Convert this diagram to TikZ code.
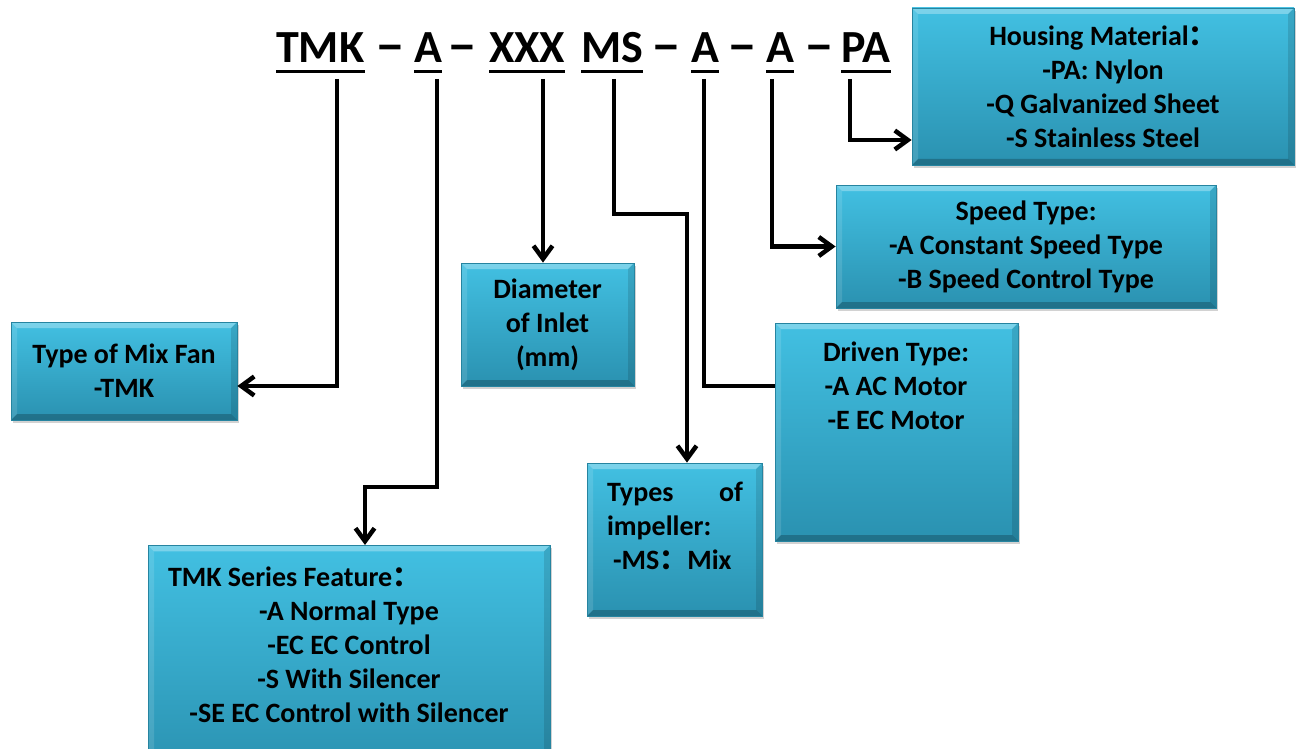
\documentclass[tikz,border=0pt]{standalone}
\usepackage{fontspec}
\setmainfont{Carlito}
\newfontfamily\cjk{Noto Sans CJK SC}
\usepackage{xcolor}
\usepackage{tikz}
\usetikzlibrary{arrows.meta, shadows}

\definecolor{boxtop}{RGB}{66,192,226}
\definecolor{boxbot}{RGB}{42,145,176}
\definecolor{boxedge}{RGB}{38,132,160}

\tikzset{
  bluebox/.style={rectangle, draw=boxedge, line width=0.8pt, top color=boxtop, bottom color=boxbot,
    drop shadow={opacity=0.35, shadow xshift=2pt, shadow yshift=-3pt}, inner sep=0pt,
    path picture={
      \coordinate (nw) at (path picture bounding box.north west);
      \coordinate (ne) at (path picture bounding box.north east);
      \coordinate (sw) at (path picture bounding box.south west);
      \coordinate (se) at (path picture bounding box.south east);
      \fill[white, opacity=0.3] (nw) -- (ne) -- ([shift={(-6pt,-6pt)}]ne) -- ([shift={(6pt,-6pt)}]nw) -- cycle;
      \fill[white, opacity=0.12] (nw) -- ([shift={(6pt,-6pt)}]nw) -- ([shift={(6pt,6pt)}]sw) -- (sw) -- cycle;
      \fill[black, opacity=0.12] (ne) -- ([shift={(-6pt,-6pt)}]ne) -- ([shift={(-6pt,6pt)}]se) -- (se) -- cycle;
      \fill[black, opacity=0.22] (sw) -- (se) -- ([shift={(-6pt,6pt)}]se) -- ([shift={(6pt,6pt)}]sw) -- cycle;
    }},
  boxtext/.style={font=\fontsize{28}{34}\selectfont\bfseries, align=center, inner sep=0pt},
  code/.style={font=\fontsize{46}{50}\selectfont\bfseries, anchor=base west, inner sep=0pt},
  sepmark/.style={code, anchor=base},
  link/.style={line width=4.5pt},
  arr/.style={line width=4.5pt, -{Straight Barb[length=13pt, width=19pt]}}
}

\begin{document}
\begin{tikzpicture}[x=1pt, y=-1pt]
    \path[use as bounding box, fill=white] (0,0) rectangle (1296,749);

    % type code
    \foreach \n/\x/\t in {tmk/276/TMK, a1/414/A, xxx/489/XXX, ms/581/MS, a2/691/A, a3/766/A, pa/841/PA}
        \node[code] (\n) at (\x,63) {\t};
    \foreach \n/\x in {d1/390, d2/462, d3/666, d4/742, d5/819}
        \node[sepmark] (\n) at (\x,63) {\scalebox{1.3}[1.15]{–}};
    \foreach \n in {tmk, a1, xxx, ms, a2, a3, pa}
        \draw[line width=3pt] ([yshift=-8.5pt]\n.base west) -- ([yshift=-8.5pt]\n.base east);
    \foreach \n/\x in {tmk/337, a1/437, xxx/543, ms/614, a2/704, a3/772, pa/850}
        \coordinate (\n-s) at (\x,79);

    % boxes
    \node[bluebox, boxtext, minimum width=382pt, minimum height=157pt] (housing) at (1103,86.5)
        {Housing Material{\cjk ：}\\-PA: Nylon\\-Q Galvanized Sheet\\-S Stainless Steel};
    \node[bluebox, boxtext, minimum width=380pt, minimum height=123pt] (speed) at (1026,246.5)
        {Speed Type:\\-A Constant Speed Type\\-B Speed Control Type};
    \node[bluebox, boxtext, minimum width=173pt, minimum height=123pt] (diam) at (547.5,324.5)
        {Diameter\\of Inlet\\(mm)};
    \node[bluebox, boxtext, minimum width=226pt, minimum height=98pt] (fan) at (124,371)
        {Type of Mix Fan\\-TMK};
    \node[bluebox, minimum width=243pt, minimum height=218pt] (driven) at (896.5,432) {};
    \node[boxtext] (driventxt) at (896,385.5) {Driven Type:\\-A AC Motor\\-E EC Motor};
    \node[bluebox, minimum width=175pt, minimum height=153pt] (imp) at (674.5,539.5) {};
    \node[boxtext, text width=136pt, align=left] (imptxt) at (675,525.5)
        {Types\hfill of\\impeller:\\\hspace*{6pt}-MS{\cjk ：}Mix};
    \node[bluebox, minimum width=402pt, minimum height=230pt, anchor=north] (series) at (349,545) {};
    \node[boxtext] (seriestxt) at (349,644.5)
        {\makebox[362pt][l]{TMK Series Feature{\cjk ：}}\\-A Normal Type\\-EC EC Control\\-S With Silencer\\-SE EC Control with Silencer};

    % connectors
    \draw[arr] (tmk-s) |- (fan.east |- 0,386);
    \draw[arr] (a1-s) |- ++(-72,408) coordinate (a1-b) -- (a1-b |- series.north);
    \draw[arr] (xxx-s) -- (xxx-s |- diam.north);
    \draw[arr] (ms-s) |- ++(73,135) coordinate (ms-b) -- (ms-b |- imp.north);
    \draw[link] (a2-s) |- (driven.west |- 0,386);
    \draw[arr] (a3-s) |- (speed.west);
    \draw[arr] (pa-s) |- (housing.west |- 0,140);
\end{tikzpicture}
\end{document}
